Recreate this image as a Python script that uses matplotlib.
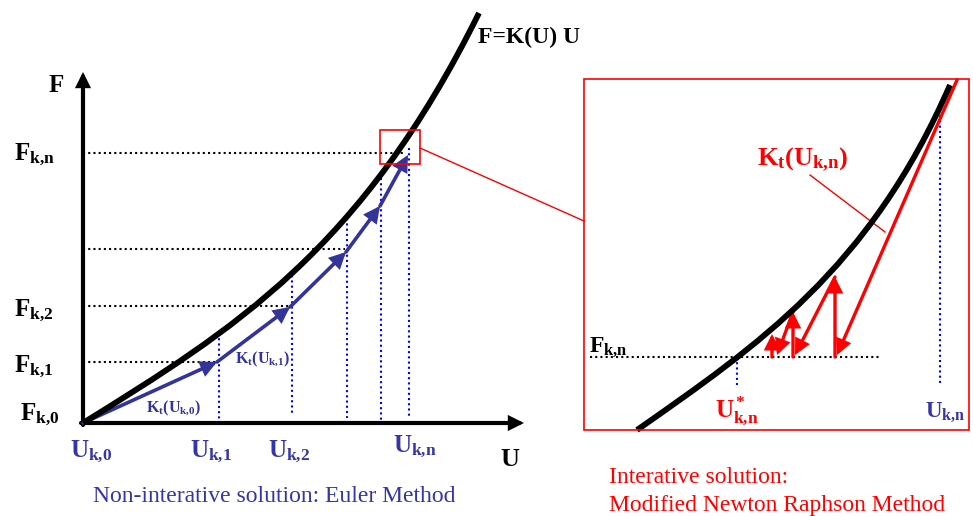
import matplotlib
matplotlib.use("Agg")
import matplotlib.pyplot as plt
from matplotlib.patches import FancyArrowPatch, Rectangle, PathPatch
from matplotlib.path import Path

plt.rcParams['mathtext.fontset'] = 'custom'
plt.rcParams['mathtext.rm'] = 'Liberation Serif'
plt.rcParams['mathtext.bf'] = 'Liberation Serif:bold'
plt.rcParams['mathtext.it'] = 'Liberation Serif:italic'
SERIF = 'Liberation Serif'

# ---- diagram geometry (figure pixel frame, y downwards) ----
# main curve F = K(U) U as cubic Bezier (start, control, control, end)
curve_u = [83, 233, 362, 479]
curve_f = [423, 330, 250, 13]
# Euler steps
euler_u = [83, 217, 290, 346, 380, 408]
euler_f = [423, 362, 307, 252, 206, 155]
# dotted load levels
level_f = [362, 306, 249, 153]
level_u = [217, 290, 345, 405]
# dotted displacement verticals
vert_u = [219, 292, 347, 381, 409]
vert_top = [333, 270, 213, 178, 148]
vert_bot = [423, 415, 418, 423, 418]

# inset curve (cubic Bezier)
inset_curve_u = [637, 757, 870, 950]
inset_curve_f = [430, 346, 269, 85]
# modified Newton-Raphson segments
nr_u0 = [957, 835, 835, 793, 793, 772]
nr_f0 = [80, 357, 277, 357, 312, 357]
nr_u1 = [837, 835, 795, 793, 777, 772]
nr_f1 = [355, 277, 355, 312, 355, 334]

BLUE_T = '#3535a8'
BLUE_A = '#333399'
BLUE_D = '#0000ff'
RED = '#ff0000'

fig = plt.figure(figsize=(9.73, 5.16), dpi=100)
ax = fig.add_axes([0, 0, 1, 1])
ax.set_xlim(0, 973)
ax.set_ylim(516, 0)
ax.axis('off')

def arrow(p0, p1, color, lw, ms=20, z=3):
    a = FancyArrowPatch(p0, p1, arrowstyle='-|>,head_length=0.4,head_width=0.2',
                        mutation_scale=ms, color=color, lw=lw,
                        shrinkA=0, shrinkB=0, zorder=z, joinstyle='miter')
    ax.add_patch(a)

def bezier(us, fs, lw):
    path = Path(list(zip(us, fs)), [Path.MOVETO, Path.CURVE4, Path.CURVE4, Path.CURVE4])
    ax.add_patch(PathPatch(path, fill=False, ec='black', lw=lw, zorder=4, capstyle='butt'))

# axes
arrow((83, 425), (83, 72), 'black', 3, ms=17)
arrow((81, 423), (524, 423), 'black', 3, ms=17)

# dotted levels
for f, u in zip(level_f, level_u):
    ax.plot([83, u], [f, f], color='black', lw=1.5, ls=(0, (1, 1.5)), zorder=2)
for u, t, b in zip(vert_u, vert_top, vert_bot):
    ax.plot([u, u], [t, b], color=BLUE_D, lw=1.5, ls=(0, (1, 1.5)), zorder=2)

# curve
bezier(curve_u, curve_f, 4.2)

# Euler steps
for i in range(len(euler_u) - 1):
    arrow((euler_u[i], euler_f[i]), (euler_u[i + 1], euler_f[i + 1]), BLUE_A, 2.6, ms=20)

# zoom box & connection
ax.add_patch(Rectangle((380, 130), 40, 34, fill=False, ec=RED, lw=1.2, zorder=5))
ax.plot([420, 584], [148, 221], color=RED, lw=1)
ax.add_patch(Rectangle((584, 79), 385, 351, fill=False, ec=RED, lw=1.2, zorder=5))

# inset
ax.plot([590, 880], [357, 357], color='black', lw=1.5, ls=(0, (1, 1.5)), zorder=2)
ax.plot([737, 737], [357, 385], color=BLUE_D, lw=1.5, ls=(0, (1, 1.5)), zorder=2)
ax.plot([940, 940], [110, 385], color=BLUE_D, lw=1.5, ls=(0, (1, 1.5)), zorder=2)
bezier(inset_curve_u, inset_curve_f, 4.2)
for a0, b0, a1, b1 in zip(nr_u0, nr_f0, nr_u1, nr_f1):
    arrow((a0, b0), (a1, b1), RED, 2.4, ms=20)
ax.plot([810, 885], [175, 232], color=RED, lw=1)

# texts
def t(x, y, s, color='black', size=17, weight='bold'):
    ax.text(x, y, s, color=color, fontsize=size, ha='left', va='baseline',
            family=SERIF, fontweight=weight)

t(48, 92, r'$\mathbf{F}$', size=18)
t(14, 160, r'$\mathbf{F_{k{,}n}}$', size=18)
t(14, 316, r'$\mathbf{F_{k{,}2}}$', size=18)
t(14, 372, r'$\mathbf{F_{k{,}1}}$', size=18)
t(20, 420, r'$\mathbf{F_{k{,}0}}$', size=18)
t(70, 457, r'$\mathbf{U_{k{,}0}}$', BLUE_T, 18)
t(190, 457, r'$\mathbf{U_{k{,}1}}$', BLUE_T, 18)
t(268, 457, r'$\mathbf{U_{k{,}2}}$', BLUE_T, 18)
t(393, 452, r'$\mathbf{U_{k{,}n}}$', BLUE_T, 18)
t(500, 466, r'$\mathbf{U}$', size=19)
t(478, 43, 'F=K(U) U', size=17)
t(146, 411, r'$\mathbf{K_t(U_{k{,}0})}$', BLUE_A, 11.5)
t(235, 362, r'$\mathbf{K_t(U_{k{,}1})}$', BLUE_A, 11.5)
t(757, 166, r'$\mathbf{K_t(U_{k{,}n})}$', RED, 19)
t(589, 352, r'$\mathbf{F_{k{,}n}}$', size=17)
t(715, 418, r'$\mathbf{U^*_{k{,}n}}$', RED, 18)
t(925, 417, r'$\mathbf{U_{k{,}n}}$', BLUE_T, 16.5)
t(93, 502, 'Non-interative solution: Euler Method', BLUE_T, 17, weight='normal')
t(609, 483, 'Interative solution:', RED, 17, weight='normal')
t(609, 511, 'Modified Newton Raphson Method', RED, 17, weight='normal')

fig.savefig('out.png', dpi=100)
